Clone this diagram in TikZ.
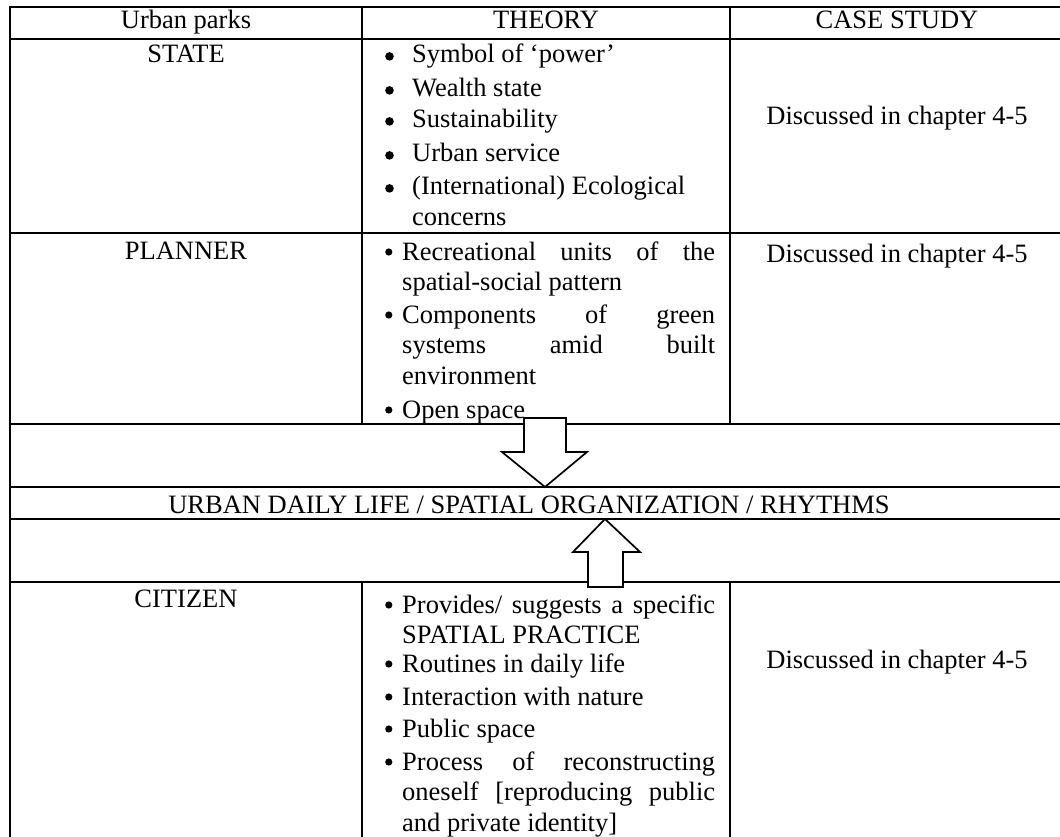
\documentclass[tikz,border=0pt]{standalone}
\usepackage{fontspec}
\setmainfont{Liberation Serif}
\tolerance=10000
\hbadness=10000
% round list marker: #1 radius, #2 height of its centre above the baseline
\newcommand\listdot[2]{\tikz[baseline=0pt]\fill (0pt,#2) circle[radius=#1];}
% bulleted entry: #1 hang, #2 box width, #3 alignment, #4 marker radius,
% #5 marker height, #6 text
\newcommand\bulletentry[6]{\vtop{\hsize=#2\relax\baselineskip=30.5pt
  #3\hangindent=#1\hangafter=1\noindent
  \makebox[#1][l]{\hspace{1pt}\listdot{#4}{#5}}#6\par}}
\begin{document}
\begin{tikzpicture}[x=1pt,y=-1pt,
  rule/.style={line width=1.7pt, line cap=rect},
  lbl/.style={anchor=base, inner sep=0pt, font=\fontsize{26.5}{30.5}\selectfont},
  itm/.style={anchor=base west, inner sep=0pt, font=\fontsize{26.5}{30.5}\selectfont},
  bigarrow/.style={draw, line width=1.7pt, fill=white, line join=miter}]
\useasboundingbox (0,0) rectangle (1060,837);

% table rules
\foreach \yy in {7,39,233,424,487,519,582}
  \draw[rule] (10,\yy) -- (1066,\yy);
\draw[rule] (10,7) -- (10,845);
\draw[rule] (362,7) -- (362,424);
\draw[rule] (730,7) -- (730,424);
\draw[rule] (362,582) -- (362,845);
\draw[rule] (730,582) -- (730,845);

% header row
\node[lbl] (hparks) at (186,29) {Urban parks};
\node[lbl] (htheory) at (546,29) {THEORY};
\node[lbl] (hcase) at (897,29) {CASE STUDY};

% state row
\node[lbl] (state) at (186,63) {STATE};
\node[itm] (s1) at (384,63) {\bulletentry{28pt}{331pt}{\raggedright}{4.3pt}{6.6pt}{Symbol of ‘power’}};
\node[itm] (s2) at (384,97) {\bulletentry{28pt}{331pt}{\raggedright}{4.3pt}{6.6pt}{Wealth state}};
\node[itm] (s3) at (384,128) {\bulletentry{28pt}{331pt}{\raggedright}{4.3pt}{6.6pt}{Sustainability}};
\node[itm] (s4) at (384,162) {\bulletentry{28pt}{331pt}{\raggedright}{4.3pt}{6.6pt}{Urban service}};
\node[itm] (s5) at (384,195) {\bulletentry{28pt}{331pt}{\raggedright}{4.3pt}{6.6pt}{(International) Ecological\newline concerns}};
\node[lbl] (scase) at (897,125) {Discussed in chapter 4-5};

% planner row
\node[lbl] (planner) at (186,259) {PLANNER};
\node[itm] (p1) at (384,260) {\bulletentry{18pt}{331pt}{}{3.6pt}{8pt}{Recreational units of the\linebreak spatial-social pattern}};
\node[itm] (p2) at (384,323) {\bulletentry{18pt}{331pt}{}{3.6pt}{8pt}{Components of green\linebreak systems amid built\linebreak environment}};
\node[itm] (p3) at (384,418) {\bulletentry{18pt}{331pt}{}{3.6pt}{8pt}{Open space}};
\node[lbl] (pcase) at (897,262) {Discussed in chapter 4-5};

% shared row
\node[lbl] (daily) at (529,513) {URBAN DAILY LIFE / SPATIAL ORGANIZATION / RHYTHMS};

% citizen row
\node[lbl] (citizen) at (186,607) {CITIZEN};
\node[itm] (c1) at (384,613) {\bulletentry{18pt}{331pt}{}{3.6pt}{8pt}{Provides/ suggests a specific\linebreak SPATIAL PRACTICE}};
\node[itm] (c2) at (384,672) {\bulletentry{18pt}{331pt}{}{3.6pt}{8pt}{Routines in daily life}};
\node[itm] (c3) at (384,705) {\bulletentry{18pt}{331pt}{}{3.6pt}{8pt}{Interaction with nature}};
\node[itm] (c4) at (384,737) {\bulletentry{18pt}{331pt}{}{3.6pt}{8pt}{Public space}};
\node[itm] (c5) at (384,770) {\bulletentry{18pt}{331pt}{}{3.6pt}{8pt}{Process of reconstructing\linebreak oneself [reproducing public\linebreak and private identity]}};
\node[lbl] (ccase) at (897,668) {Discussed in chapter 4-5};

% block arrows into the shared row
\draw[bigarrow] (524,418) -- (566,418) -- (566,452) -- (587,452) -- (545,487)
  -- (502,452) -- (524,452) -- cycle;
\draw[bigarrow] (588,587) -- (623,587) -- (623,552) -- (640,552) -- (605,519)
  -- (573,552) -- (588,552) -- cycle;
\end{tikzpicture}
\end{document}
